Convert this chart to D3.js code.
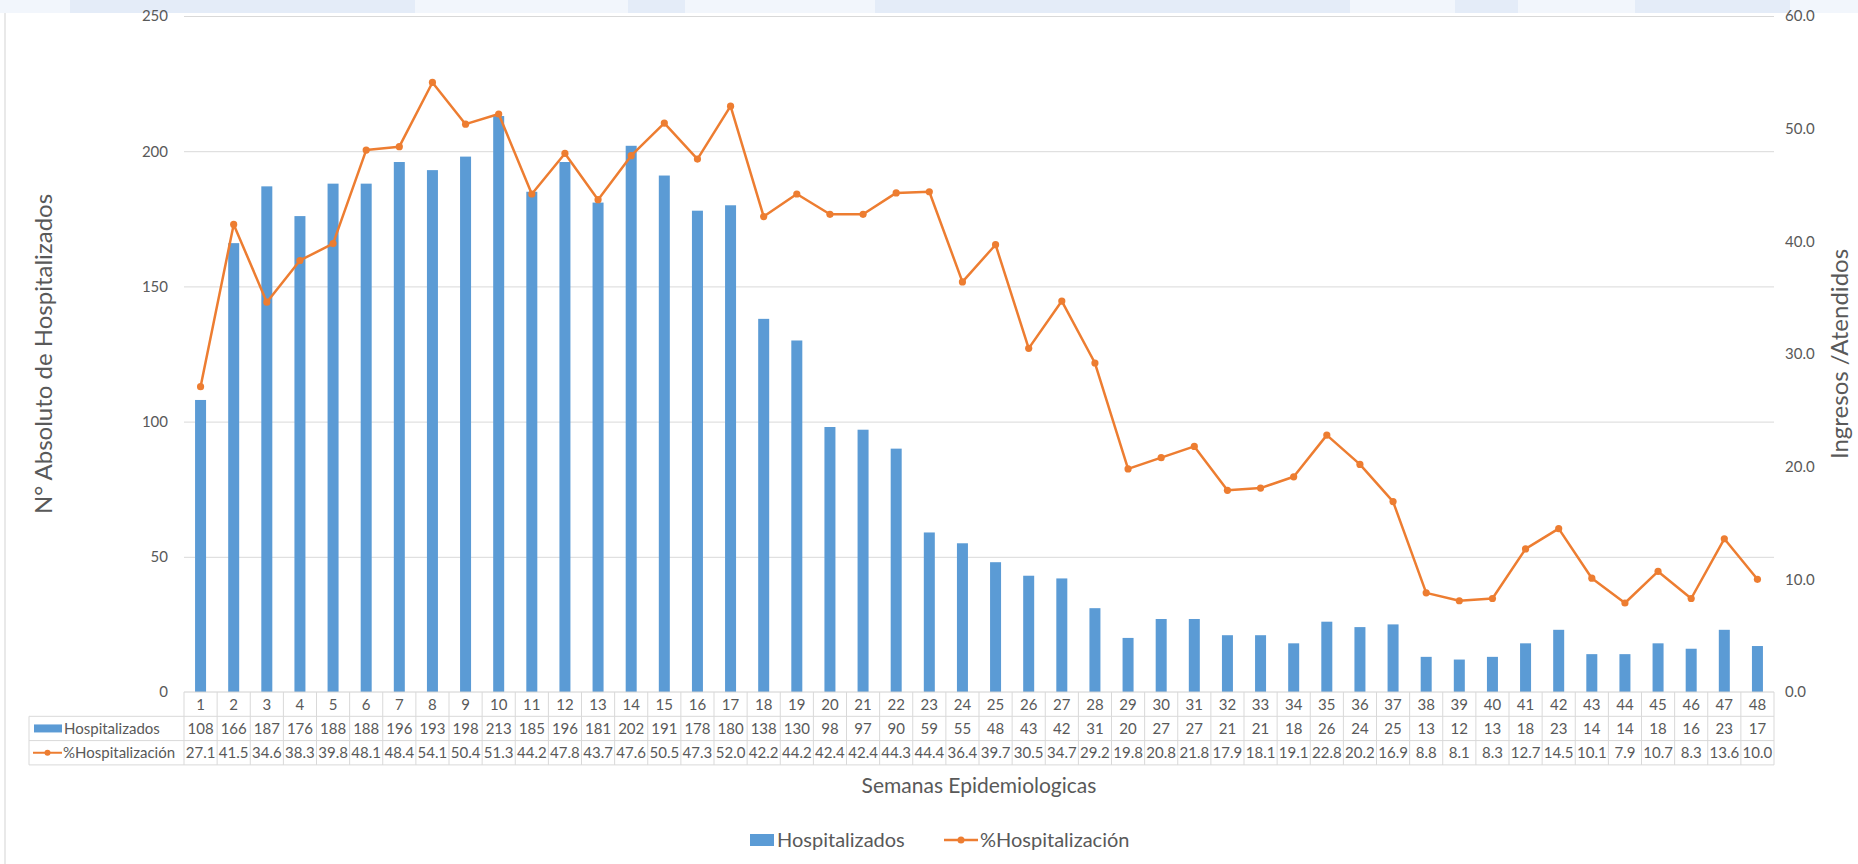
<!DOCTYPE html>
<html>
<head>
<meta charset="utf-8">
<script src="https://cdn.jsdelivr.net/npm/d3@7"></script>
<style>
  body { margin: 0; background: #fff; }
  svg { display: block; font-family: Lato, "Open Sans", sans-serif; }
</style>
</head>
<body>
<svg width="1858" height="864"></svg>
<script>
const weeks = d3.range(1, 49);
const hospitalizados = [108,166,187,176,188,188,196,193,198,213,185,196,181,202,191,178,180,138,130,98,97,90,59,55,48,43,42,31,20,27,27,21,21,18,26,24,25,13,12,13,18,23,14,14,18,16,23,17];
const pctHosp = [27.1,41.5,34.6,38.3,39.8,48.1,48.4,54.1,50.4,51.3,44.2,47.8,43.7,47.6,50.5,47.3,52.0,42.2,44.2,42.4,42.4,44.3,44.4,36.4,39.7,30.5,34.7,29.2,19.8,20.8,21.8,17.9,18.1,19.1,22.8,20.2,16.9,8.8,8.1,8.3,12.7,14.5,10.1,7.9,10.7,8.3,13.6,10.0];
const leftTicks = [0, 50, 100, 150, 200, 250];
const rightTicks = [0, 10, 20, 30, 40, 50, 60];

const blue = '#5B9BD5', orange = '#ED7D31', grid = '#d9d9d9', txt = '#595959';

const svg = d3.select('svg');

// decorative top band of the slide
const band = svg.append('g');
band.append('rect').attr('x', 0).attr('y', 0).attr('width', 1858).attr('height', 13).attr('fill', '#f2f6fc');
[[70, 355], [355, 415], [628, 685], [875, 1350], [1455, 1518], [1635, 1790]].forEach(p => {
  band.append('rect').attr('x', p[0]).attr('y', 0).attr('width', p[1] - p[0]).attr('height', 13).attr('fill', '#e4ecf8');
});
svg.append('line').attr('x1', 5).attr('x2', 5).attr('y1', 13).attr('y2', 864).attr('stroke', '#e2e2e2').attr('stroke-width', 1.5);

const x = d3.scaleBand().domain(weeks).range([184, 1774]).padding(0);
const yL = d3.scaleLinear().domain([0, 250]).range([692, 16]);
const yR = d3.scaleLinear().domain([0, 60]).range([692, 16]);

// gridlines
svg.append('g').selectAll('line').data(leftTicks.slice(1)).enter().append('line')
  .attr('x1', 184).attr('x2', 1774)
  .attr('y1', d => yL(d) + 0.5).attr('y2', d => yL(d) + 0.5)
  .attr('stroke', grid).attr('stroke-width', 1);

// left axis
const axL = svg.append('g').attr('transform', 'translate(172,0)')
  .call(d3.axisLeft(yL).tickValues(leftTicks).tickSize(0).tickPadding(4));
axL.select('.domain').remove();
axL.selectAll('text').attr('fill', txt).style('font-size', '15px').style('font-family', 'Lato');

// right axis
const axR = svg.append('g').attr('transform', 'translate(1781,0)')
  .call(d3.axisRight(yR).tickValues(rightTicks).tickFormat(d3.format('.1f')).tickSize(0).tickPadding(4));
axR.select('.domain').remove();
axR.selectAll('text').attr('fill', txt).style('font-size', '15px').style('font-family', 'Lato');

// bars
const bw = 11;
svg.append('g').selectAll('rect').data(hospitalizados).enter().append('rect')
  .attr('x', (d, i) => x(weeks[i]) + x.bandwidth() / 2 - bw / 2)
  .attr('width', bw)
  .attr('y', d => yL(d))
  .attr('height', d => yL(0) - yL(d))
  .attr('fill', blue);

// line
const line = d3.line().x((d, i) => x(weeks[i]) + x.bandwidth() / 2).y(d => yR(d));
svg.append('path').datum(pctHosp).attr('d', line)
  .attr('fill', 'none').attr('stroke', orange).attr('stroke-width', 2.5).attr('stroke-linejoin', 'round');
svg.append('g').selectAll('circle').data(pctHosp).enter().append('circle')
  .attr('cx', (d, i) => x(weeks[i]) + x.bandwidth() / 2)
  .attr('cy', d => yR(d))
  .attr('r', 3.6).attr('fill', orange);

// data table
const t0 = 692, rh = 24.3;
const tbl = svg.append('g');
const rowsY = [t0, t0 + rh, t0 + 2 * rh, t0 + 3 * rh];
tbl.append('line').attr('x1', 184).attr('x2', 1774).attr('y1', rowsY[0]).attr('y2', rowsY[0]).attr('stroke', '#d0d0d0');
rowsY.slice(1).forEach(y => {
  tbl.append('line').attr('x1', 29).attr('x2', 1774).attr('y1', y).attr('y2', y).attr('stroke', grid);
});
tbl.append('line').attr('x1', 29).attr('x2', 29).attr('y1', rowsY[1]).attr('y2', rowsY[3]).attr('stroke', grid);
tbl.selectAll('.vl').data(weeks.concat([49])).enter().append('line')
  .attr('x1', d => d === 49 ? 1774 : x(d)).attr('x2', d => d === 49 ? 1774 : x(d))
  .attr('y1', rowsY[0]).attr('y2', rowsY[3]).attr('stroke', grid);

const cellText = (vals, row, fmt) => {
  tbl.append('g').selectAll('text').data(vals).enter().append('text')
    .attr('x', (d, i) => x(weeks[i]) + x.bandwidth() / 2)
    .attr('y', rowsY[row] + rh / 2)
    .attr('dy', '0.36em')
    .attr('text-anchor', 'middle')
    .attr('fill', txt)
    .style('font-size', '15px')
    .text(fmt);
};
cellText(weeks, 0, d => d);
cellText(hospitalizados, 1, d => d);
cellText(pctHosp, 2, d3.format('.1f'));

// table legend keys
tbl.append('rect').attr('x', 34).attr('y', rowsY[1] + rh / 2 - 4).attr('width', 28).attr('height', 8).attr('fill', blue);
tbl.append('text').attr('x', 64).attr('y', rowsY[1] + rh / 2).attr('dy', '0.36em').attr('fill', txt).style('font-size', '15px').text('Hospitalizados');
tbl.append('line').attr('x1', 33).attr('x2', 62).attr('y1', rowsY[2] + rh / 2).attr('y2', rowsY[2] + rh / 2).attr('stroke', orange).attr('stroke-width', 2);
tbl.append('circle').attr('cx', 47.5).attr('cy', rowsY[2] + rh / 2).attr('r', 3).attr('fill', orange);
tbl.append('text').attr('x', 63).attr('y', rowsY[2] + rh / 2).attr('dy', '0.36em').attr('fill', txt).style('font-size', '15px').text('%Hospitalización');

// axis titles
svg.append('text').attr('transform', 'translate(52,354) rotate(-90)').attr('text-anchor', 'middle')
  .attr('fill', txt).style('font-size', '24px').text('N° Absoluto de Hospitalizados');
svg.append('text').attr('transform', 'translate(1848,354) rotate(-90)').attr('text-anchor', 'middle')
  .attr('fill', txt).style('font-size', '24px').text('Ingresos /Atendidos');
svg.append('text').attr('x', 979).attr('y', 786).attr('dy', '0.35em').attr('text-anchor', 'middle')
  .attr('fill', txt).style('font-size', '21px').text('Semanas Epidemiologicas');

// legend
const lg = svg.append('g').attr('transform', 'translate(0,840)');
lg.append('rect').attr('x', 750).attr('y', -6).attr('width', 24).attr('height', 12).attr('fill', blue);
lg.append('text').attr('x', 777).attr('dy', '0.35em').attr('fill', txt).style('font-size', '20px').text('Hospitalizados');
lg.append('line').attr('x1', 944).attr('x2', 978).attr('stroke', orange).attr('stroke-width', 2.5);
lg.append('circle').attr('cx', 961).attr('r', 3.5).attr('fill', orange);
lg.append('text').attr('x', 980).attr('dy', '0.35em').attr('fill', txt).style('font-size', '20px').text('%Hospitalización');
</script>
</body>
</html>
